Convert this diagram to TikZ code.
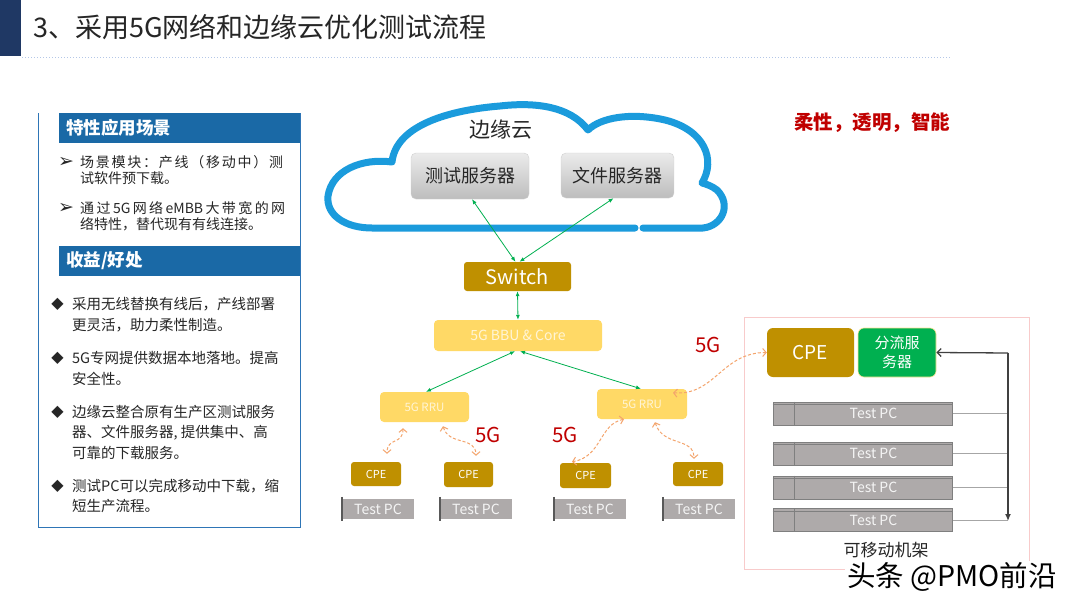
\documentclass[tikz,border=0pt]{standalone}
\usepackage{fontspec}
\setmainfont{Noto Sans CJK SC}
\newfontfamily\dejavu{DejaVu Sans}
\usetikzlibrary{arrows.meta}
\newcommand\myfs[1]{\fontsize{#1}{#1}\selectfont}
\definecolor{cnavy}{HTML}{1F3864}
\definecolor{chead}{HTML}{1A69A6}
\definecolor{cpanel}{HTML}{2E75B6}
\definecolor{cdot}{HTML}{B4C7E7}
\definecolor{ctext}{HTML}{262626}
\definecolor{ccloud}{HTML}{1B9BDC}
\definecolor{cgold}{HTML}{BF9000}
\definecolor{clgold}{HTML}{FFD966}
\definecolor{ccream}{HTML}{FFF5D6}
\definecolor{cgreen}{HTML}{00B050}
\definecolor{cred}{HTML}{C00000}
\definecolor{corange}{HTML}{F4A46C}
\definecolor{cpc}{HTML}{AEAAAA}
\definecolor{cpcedge}{HTML}{595959}
\definecolor{crackd}{HTML}{7F7F7F}
\definecolor{cpink}{HTML}{F8CBCB}
\definecolor{csrvT}{HTML}{EBEBEB}
\definecolor{csrvB}{HTML}{BDBDBD}
\definecolor{csrvD}{HTML}{D0D0D0}
\definecolor{cwire}{HTML}{404040}
\tikzset{
  hdr/.style={fill=chead, text=white, anchor=west, minimum height=30pt, text width=227pt, inner xsep=7pt, inner ysep=0pt, align=left, font=\myfs{17.5}\bfseries},
  ltxt/.style={anchor=west, inner sep=0pt, text=ctext},
  lt1/.style={ltxt, font=\myfs{14}},
  lt2/.style={ltxt, font=\myfs{14.5}},
  bul/.style={inner sep=0pt, text=ctext},
  goldbox/.style={fill=cgold, rounded corners=3pt, inner sep=0pt, text=white},
  lgoldbox/.style={fill=clgold, rounded corners=4pt, inner sep=0pt, text=ccream},
  srvbox/.style={rounded corners=5pt, top color=csrvT, bottom color=csrvB, draw=csrvD, inner sep=0pt, text=ctext, font=\myfs{18}},
  pcbar/.style={fill=cpc, inner sep=0pt, minimum width=72pt, minimum height=20pt, text=white!92!gray, font=\myfs{14}},
  rackbar/.style={fill=cpc, draw=crackd, line width=1pt, inner sep=0pt, minimum width=179pt, minimum height=23pt, text=white!92!gray, font=\myfs{14}},
  garrow/.style={cgreen, line width=0.8pt, {Latex[length=5pt,width=4pt]}-{Latex[length=5pt,width=4pt]}},
  oarrow/.style={corange, line width=1pt, dash pattern=on 3pt off 2pt, {Straight Barb[length=3.5pt,width=8pt]}-{Straight Barb[length=3.5pt,width=8pt]}},
  redlbl/.style={text=cred, inner sep=0pt, font=\myfs{20.5}},
}
\begin{document}
\begin{tikzpicture}[x=1pt,y=-1pt]
\useasboundingbox (0,0) rectangle (1080,608);
\fill[white] (0,0) rectangle (1080,608);
% title
\fill[cnavy] (0,0) rectangle (21,56);
\node[anchor=west, inner sep=0pt, text=ctext, font=\myfs{27}] (title) at (33,27) {3、采用5G网络和边缘云优化测试流程};
\draw[cdot, line width=1pt, dotted] (22,57.5) -- (950,57.5);

% left panel
\draw[cpanel, line width=1pt] (38,113) -- (38,527) -- (300,527) -- (300,113);
\node[hdr] (h1) at (59,128) {特性应用场景};
\node[hdr] (h2) at (59,261) {收益/好处};
\node[bul, font=\dejavu\myfs{19}] (b1) at (66,162) {➢};
\node[lt1] (l1a) at (80,162) {\makebox[203pt][s]{场\hfill 景\hfill 模\hfill 块\hfill ：\hfill 产\hfill 线\hfill （\hfill 移\hfill 动\hfill 中\hfill ）\hfill 测}};
\node[lt1] (l1b) at (80,178) {试软件预下载。};
\node[bul, font=\dejavu\myfs{19}] (b2) at (66,208) {➢};
\node[lt1] (l2a) at (80,208) {\makebox[205pt][s]{通\hfill 过\hfill 5G\hfill 网\hfill 络\hfill eMBB\hfill 大\hfill 带\hfill 宽\hfill 的\hfill 网}};
\node[lt1] (l2b) at (80,224) {络特性，替代现有有线连接。};
\node[bul, font=\dejavu\myfs{16}] (d1) at (57.5,304) {◆};
\node[lt2] (m1a) at (72,304) {采用无线替换有线后，产线部署};
\node[lt2] (m1b) at (72,325) {更灵活，助力柔性制造。};
\node[bul, font=\dejavu\myfs{16}] (d2) at (57.5,358) {◆};
\node[lt2] (m2a) at (72,358) {5G专网提供数据本地落地。提高};
\node[lt2] (m2b) at (72,379) {安全性。};
\node[bul, font=\dejavu\myfs{16}] (d3) at (57.5,412) {◆};
\node[lt2] (m3a) at (72,412) {边缘云整合原有生产区测试服务};
\node[lt2] (m3b) at (72,433) {器、文件服务器, 提供集中、高};
\node[lt2] (m3c) at (72,453) {可靠的下载服务。};
\node[bul, font=\dejavu\myfs{16}] (d4) at (57.5,486) {◆};
\node[lt2] (m4a) at (72,486) {测试PC可以完成移动中下载，缩};
\node[lt2] (m4b) at (72,506) {短生产流程。};

% cloud
\draw[ccloud, line width=7pt, line cap=round, line join=round]
  (643,228) -- (703,228)
  .. controls (722,226) and (732,205) .. (717,190)
  .. controls (712,186) and (706,184) .. (702,183)
  .. controls (716,160) and (705,130) .. (665,120)
  .. controls (630,112) and (600,118) .. (588,130)
  .. controls (570,106) and (535,102) .. (500,106)
  .. controls (450,110) and (396,125) .. (392,162)
  .. controls (362,158) and (332,170) .. (328,196)
  .. controls (326,215) and (345,228) .. (372,228)
  -- (635,228);
\node[inner sep=0pt, text=ctext, font=\myfs{21}] (cloudlbl) at (501,130) {边缘云};
\node[srvbox, minimum width=118pt, minimum height=46pt] (srvT) at (470,176) {测试服务器};
\node[srvbox, minimum width=113pt, minimum height=45pt] (srvF) at (617.5,175.5) {文件服务器};

% network tree
\node[goldbox, minimum width=107pt, minimum height=29pt, font=\myfs{20}] (sw) at (517.5,276.5) {Switch};
\node[lgoldbox, minimum width=168pt, minimum height=31pt, font=\myfs{14}] (bbu) at (518,335.5) {5G BBU \& Core};
\node[lgoldbox, minimum width=89pt, minimum height=30pt, font=\myfs{11.5}] (rruL) at (424.5,407) {5G RRU};
\node[lgoldbox, minimum width=90pt, minimum height=30pt, font=\myfs{11.5}] (rruR) at (642,404) {5G RRU};
\node[goldbox, minimum width=50pt, minimum height=24pt, font=\myfs{11}] (cpe1) at (376,474) {CPE};
\node[goldbox, minimum width=49pt, minimum height=25pt, font=\myfs{11}] (cpe2) at (468.5,474.5) {CPE};
\node[goldbox, minimum width=51pt, minimum height=25pt, font=\myfs{11}] (cpe3) at (585.5,475.5) {CPE};
\node[goldbox, minimum width=50pt, minimum height=24pt, font=\myfs{11}] (cpe4) at (698,474) {CPE};
\foreach \n/\x in {pc1/378, pc2/476, pc3/590, pc4/699}{
  \node[pcbar] (\n) at (\x,509) {Test PC};
  \draw[cpcedge, line width=1.6pt] ([yshift=2pt]\n.north west) -- ([yshift=-2pt]\n.south west);
}

\draw[garrow] ([xshift=2pt]srvT.south) -- ([xshift=-2pt]sw.north);
\draw[garrow] ([xshift=-4pt]srvF.south) -- ([xshift=2pt]sw.north);
\draw[garrow] (sw.south) -- (bbu.north);
\draw[garrow] ([xshift=-3pt]bbu.south) -- ([xshift=1.5pt]rruL.north);
\draw[garrow] ([xshift=2pt]bbu.south) -- ([xshift=-1pt]rruR.north);

\draw[oarrow] ([xshift=-21.5pt,yshift=-6pt]rruL.south) .. controls +(0,17) and +(0,-17) .. ([xshift=11pt,yshift=8pt]cpe1.north);
\draw[oarrow] ([xshift=18.5pt,yshift=-4pt]rruL.south) .. controls +(6,20) and +(0,-20) .. ([xshift=7.5pt,yshift=6pt]cpe2.north);
\draw[oarrow] ([xshift=-18pt]rruR.south) .. controls +(-25,5) and +(30,-5) .. ([xshift=-13.5pt,yshift=1pt]cpe3.north);
\draw[oarrow] ([xshift=13pt,yshift=-3pt]rruR.south) .. controls +(8,25) and +(0,-22) .. ([xshift=-4pt,yshift=3pt]cpe4.north);

\node[redlbl] (g1) at (488,435) {5G};
\node[redlbl] (g2) at (565,435) {5G};
\node[redlbl] (g3) at (708,345) {5G};

% rack
\draw[cpink, line width=0.8pt] (744,317) rectangle (1029,569);
\node[goldbox, rounded corners=6pt, minimum width=87pt, minimum height=49pt, font=\myfs{19}] (cpeB) at (810.5,352.5) {CPE};
\node[fill=cgreen, draw=clgold!70!white, line width=0.6pt, rounded corners=6pt, minimum width=78pt, minimum height=49pt, inner sep=0pt, text=white, align=center, font=\fontsize{15}{19}\selectfont] (shunt) at (897,352.5) {分流服\\务器};
\draw[oarrow] ([xshift=31pt,yshift=-4pt]rruR.north) .. controls +(42,3) and +(-45,0) .. (cpeB.west);

\foreach \n/\y in {r1/413.5, r2/453.5, r3/487.5, r4/520}{
  \node[rackbar] (\n) at (862.5,\y) {\hspace*{22pt}Test PC};
  \draw[crackd, line width=0.8pt] ([yshift=-3pt]\n.north west) -- ([yshift=-3pt]\n.north east);
  \draw[crackd, line width=1.2pt] ([xshift=22pt]\n.north west) -- ([xshift=22pt]\n.south west);
}
\coordinate (vt) at (1008,353);
\coordinate (vb) at (1008,521);
\foreach \n in {r1,r2,r3,r4}{
  \draw[gray!70, line width=0.8pt] (\n.east) -- (\n.east -| vt);
}
\draw[cwire, line width=1.3pt, -{Straight Barb[length=4pt,width=8pt]}] (vt) -- (shunt.east);
\draw[cwire, line width=1.3pt, -{Latex[length=7pt,width=6pt]}] (vt) -- (vb);
\node[inner sep=0pt, text=ctext, font=\myfs{17}] (rackl) at (886,550) {可移动机架};

% right top slogan
\node[inner sep=0pt, text=cred, font=\myfs{19.5}\bfseries] (slogan) at (872,123) {柔性，透明，智能};

% watermark
\node[fill=white, inner xsep=2pt, inner ysep=1pt, text=black, font=\myfs{28.5}] (wm) at (952,577) {头条 @PMO前沿};
\end{tikzpicture}
\end{document}
